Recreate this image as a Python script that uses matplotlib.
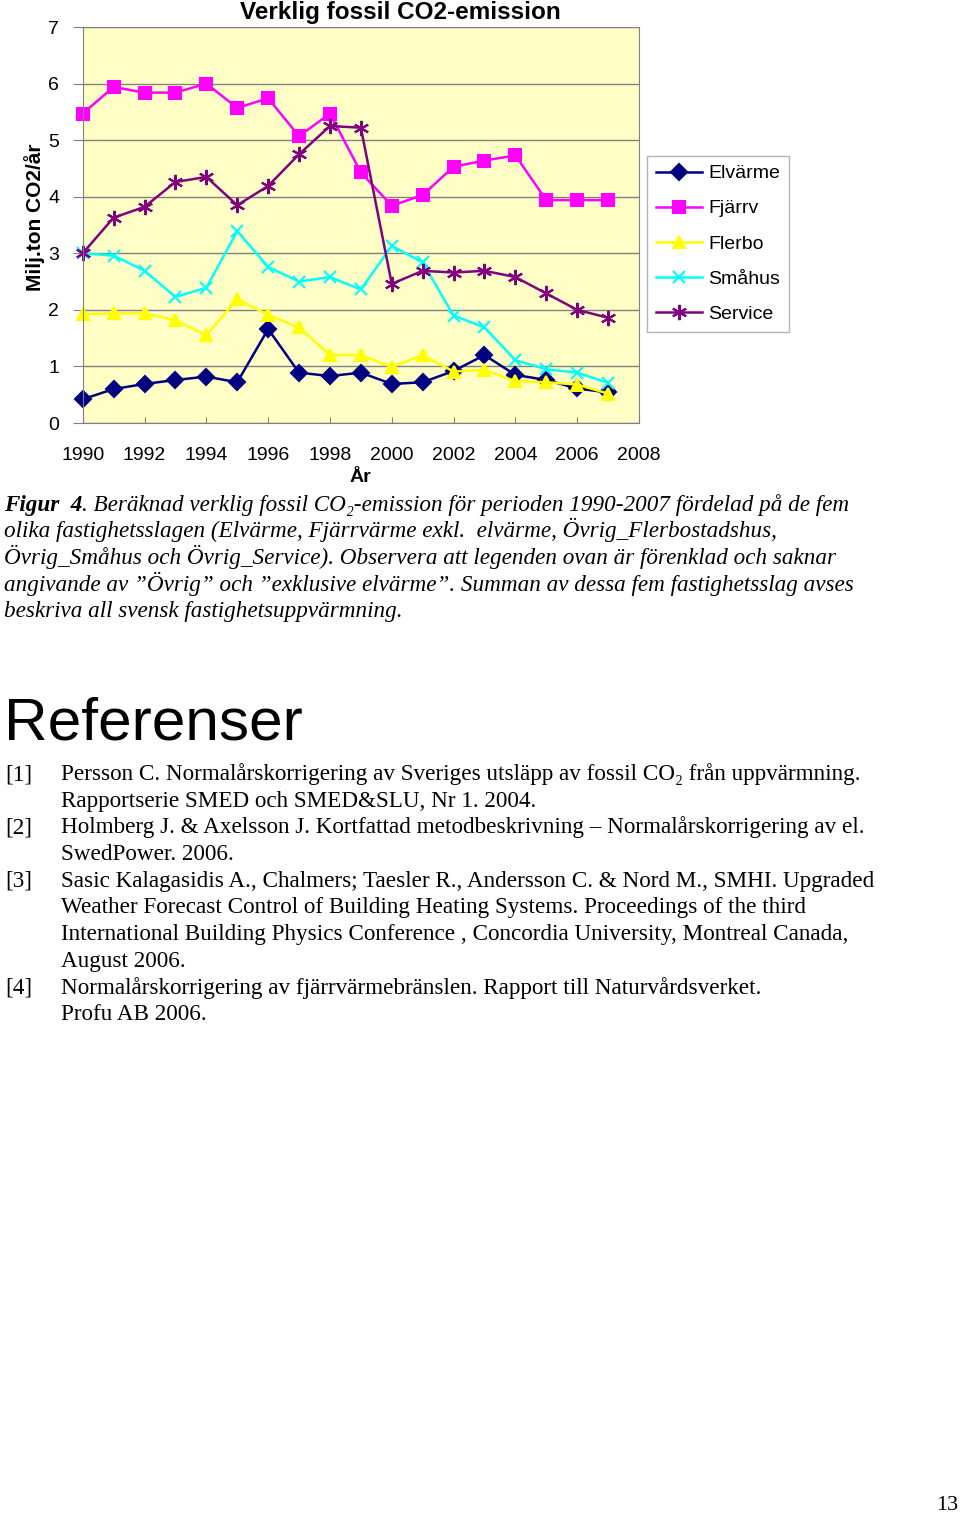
import matplotlib
matplotlib.use("Agg")
import matplotlib.pyplot as plt

# Data (Milj. ton CO2/år)
years = list(range(1990, 2008))
elvarme = [0.42, 0.60, 0.69, 0.76, 0.82, 0.72, 1.66, 0.89, 0.83, 0.89,
           0.69, 0.72, 0.92, 1.20, 0.85, 0.76, 0.61, 0.54]
fjarrv = [5.47, 5.94, 5.84, 5.84, 6.00, 5.57, 5.74, 5.07, 5.47, 4.43,
          3.84, 4.03, 4.53, 4.64, 4.73, 3.94, 3.94, 3.94]
flerbo = [1.92, 1.94, 1.94, 1.82, 1.55, 2.19, 1.91, 1.69, 1.20, 1.20,
          0.99, 1.20, 0.91, 0.94, 0.74, 0.72, 0.68, 0.52]
smahus = [3.00, 2.96, 2.69, 2.23, 2.39, 3.39, 2.76, 2.50, 2.58, 2.36,
          3.13, 2.84, 1.90, 1.69, 1.11, 0.95, 0.89, 0.71]
service = [3.00, 3.63, 3.82, 4.26, 4.35, 3.85, 4.19, 4.75, 5.25, 5.22,
           2.46, 2.69, 2.66, 2.69, 2.58, 2.29, 2.00, 1.86]
series_names = ["Elvärme", "Fjärrv", "Flerbo", "Småhus", "Service"]
xtick_years = list(range(1990, 2009, 2))
ytick_values = list(range(0, 8))

caption_lines = [
    "olika fastighetsslagen (Elvärme, Fjärrvärme exkl.  elvärme, Övrig_Flerbostadshus,",
    "Övrig_Småhus och Övrig_Service). Observera att legenden ovan är förenklad och saknar",
    "angivande av \u201dÖvrig\u201d och \u201dexklusive elvärme\u201d. Summan av dessa fem fastighetsslag avses",
    "beskriva all svensk fastighetsuppvärmning.",
]
references = [
    ("[1]", ["Persson C. Normalårskorrigering av Sveriges utsläpp av fossil CO\u2082 från uppvärmning.",
             "Rapportserie SMED och SMED&SLU, Nr 1. 2004."]),
    ("[2]", ["Holmberg J. & Axelsson J. Kortfattad metodbeskrivning \u2013 Normalårskorrigering av el.",
             "SwedPower. 2006."]),
    ("[3]", ["Sasic Kalagasidis A., Chalmers; Taesler R., Andersson C. & Nord M., SMHI. Upgraded",
             "Weather Forecast Control of Building Heating Systems. Proceedings of the third",
             "International Building Physics Conference , Concordia University, Montreal Canada,",
             "August 2006."]),
    ("[4]", ["Normalårskorrigering av fjärrvärmebränslen. Rapport till Naturvårdsverket.",
             "Profu AB 2006."]),
]

W, H = 960, 1515
fig = plt.figure(figsize=(W / 100, H / 100), dpi=100)
fig.patch.set_facecolor("white")

sans = ["Liberation Sans", "DejaVu Sans"]
serif = ["Liberation Serif", "DejaVu Serif"]


def fx(px):
    return px / W


def fy(py):
    return 1 - py / H


# Chart
ax = fig.add_axes([fx(82.7), fy(423), fx(639 - 82.7), (423 - 27) / H])
ax.set_facecolor("#FFFFC6")

styles = [
    (elvarme, "#000080", "D", 8),
    (fjarrv, "#FF00FF", "s", 8),
    (flerbo, "#FFFF00", "^", 9),
    (smahus, "#00FFFF", "x", 9),
    (service, "#800080", (6, 2, 0), 11),
]
for (vals, col, mk, ms), name in zip(styles, series_names):
    ax.plot(years, vals, color=col, marker=mk, markersize=ms, linewidth=1.8,
            markeredgewidth=1.5, label=name, clip_on=False)

ax.set_xlim(1990, 2008)
ax.set_ylim(0, 7)
ax.set_xticks(xtick_years)
ax.set_yticks(ytick_values)
ax.grid(axis="y", color="#808080", linewidth=1)
ax.set_axisbelow(True)
for s in ax.spines.values():
    s.set_color("#808080")
ax.tick_params(axis="x", direction="in", length=4, color="#808080", pad=17)
ax.tick_params(axis="y", direction="out", length=7, color="#808080", pad=10)
for lab in ax.get_xticklabels() + ax.get_yticklabels():
    lab.set_fontfamily(sans)
    lab.set_fontsize(14)

ax.set_xlabel("År", fontsize=14, fontweight="bold", family=sans, labelpad=4)
fig.text(fx(35), fy(217), "Milj.ton CO2/år", rotation=90, ha="center", va="center",
         fontsize=15, fontweight="bold", family=sans)
fig.text(fx(400), fy(12), "Verklig fossil CO2-emission", ha="center", va="center",
         fontsize=17.5, fontweight="bold", family=sans)

leg = ax.legend(loc="upper left", bbox_to_anchor=((647 - 82.7) / (639 - 82.7), (423 - 156) / 396),
                frameon=True, fancybox=False, prop={"family": sans, "size": 14},
                handlelength=2.4, borderpad=0.45, labelspacing=0.9, handletextpad=0.3,
                borderaxespad=0)
leg.get_frame().set_edgecolor("#A0A0A0")
leg.get_frame().set_linewidth(1)

# Caption
renderer = fig.canvas.get_renderer()
cap_size = 16.7
t0 = fig.text(fx(4), fy(511), "Figur  4", family=serif, style="italic", fontweight="bold",
              fontsize=cap_size, va="baseline")
bb = t0.get_window_extent(renderer)
fig.text(bb.x1 / W, fy(511),
         ". Beräknad verklig fossil CO\u2082-emission för perioden 1990-2007 fördelad på de fem",
         family=serif, style="italic", fontsize=cap_size, va="baseline")
for i, line in enumerate(caption_lines):
    fig.text(fx(4), fy(537.5 + 26.5 * i), line, family=serif, style="italic",
             fontsize=cap_size, va="baseline")

# References
fig.text(fx(4), fy(740), "Referenser", family=sans, fontsize=43.5, va="baseline")
row = 0
for tag, lines in references:
    fig.text(fx(5), fy(780 + 26.7 * row), tag, family=serif, fontsize=cap_size, va="baseline")
    for line in lines:
        fig.text(fx(61), fy(780 + 26.7 * row), line, family=serif, fontsize=cap_size,
                 va="baseline")
        row += 1

fig.text(fx(958), fy(1510), "13", family=serif, fontsize=16, ha="right", va="baseline")

fig.savefig("out.png", dpi=100)
